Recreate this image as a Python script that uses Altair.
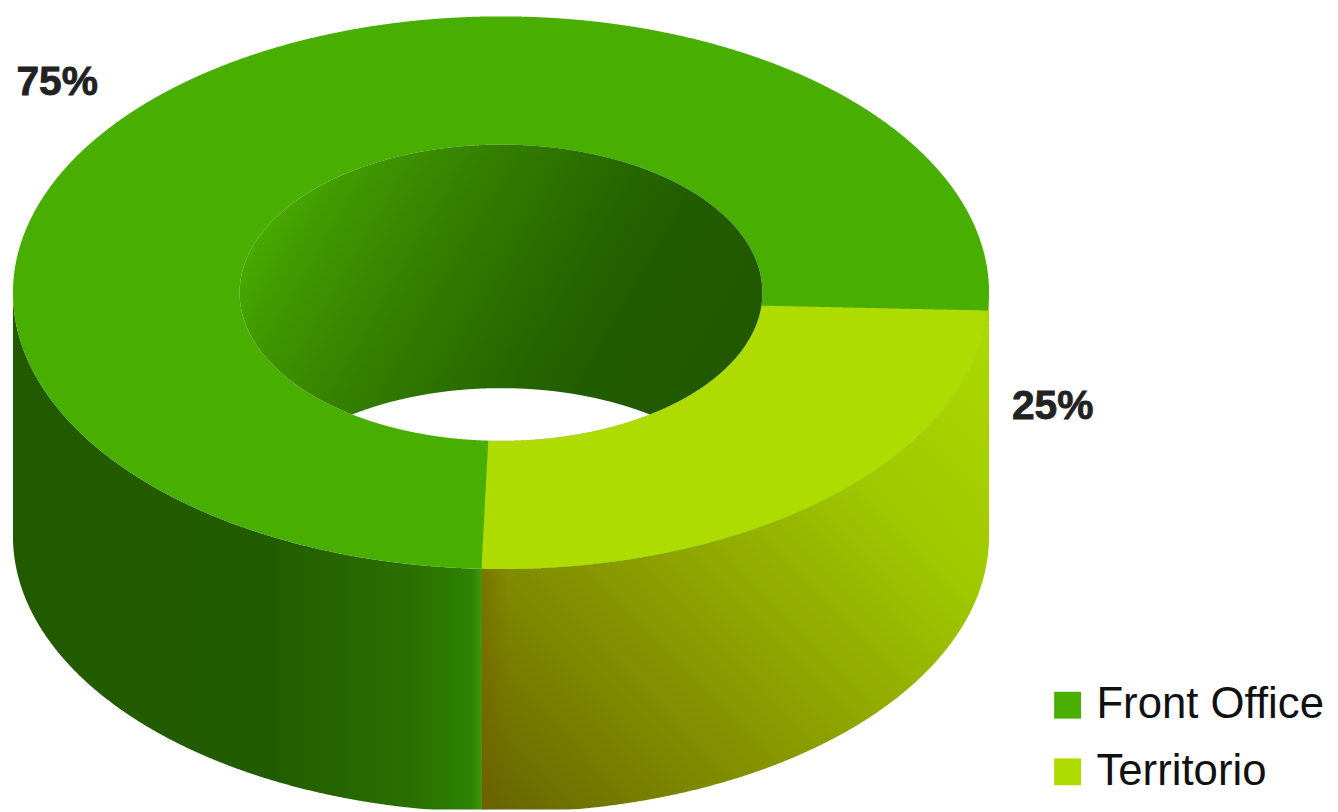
import numpy as np
import pandas as pd
import altair as alt

# --- chart values ---
series = ["Front Office", "Territorio"]
shares = [75, 25]
series_colors = ["#48AE00", "#AEDB00"]

# --- ring geometry, in picture pixels ---
CX, CY = 504.0, 292.0
RX_OUT, RY_OUT = 491.0, 278.0
RX_IN, RY_IN = 263.0, 149.0
DEPTH = 245.0
START_OUT, START_IN = 3.7, 5.0
SWEEP_OUT, SWEEP_IN = 88.6, 87.8

X_DOMAIN = [8, 1338]
Y_DOMAIN = [812, 8]
W, H = 1330, 804

theta = np.radians(np.linspace(0, 180, 1441))


def lower(x, rx, ry):
    u = np.clip((x - CX) / rx, -1, 1)
    return CY + ry * np.sqrt(1 - u * u)


def upper(x, rx, ry):
    u = np.clip((x - CX) / rx, -1, 1)
    return CY - ry * np.sqrt(1 - u * u)


xs_out = np.sort(CX + RX_OUT * np.cos(theta))
xs_in = np.sort(CX + RX_IN * np.cos(theta))

a0o, a1o = np.radians(START_OUT), np.radians(START_OUT + SWEEP_OUT)
a0i, a1i = np.radians(START_IN), np.radians(START_IN + SWEEP_IN)
p_out_start = (CX + RX_OUT * np.cos(a0o), CY + RY_OUT * np.sin(a0o))
p_out_end = (CX + RX_OUT * np.cos(a1o), CY + RY_OUT * np.sin(a1o))
p_in_start = (CX + RX_IN * np.cos(a0i), CY + RY_IN * np.sin(a0i))
p_in_end = (CX + RX_IN * np.cos(a1i), CY + RY_IN * np.sin(a1i))

top_front = pd.DataFrame({"x": xs_out, "y": upper(xs_out, RX_OUT, RY_OUT),
                          "y2": lower(xs_out, RX_OUT, RY_OUT), "series": series[0]})

xs_t = xs_out[(xs_out >= p_out_end[0]) & (xs_out <= p_out_start[0])]
top_edge = np.where(
    xs_t < p_in_end[0],
    np.interp(xs_t, [p_out_end[0], p_in_end[0]], [p_out_end[1], p_in_end[1]]),
    np.where(
        xs_t < p_in_start[0],
        lower(xs_t, RX_IN, RY_IN),
        np.interp(xs_t, [p_in_start[0], p_out_start[0]], [p_in_start[1], p_out_start[1]]),
    ),
)
top_terr = pd.DataFrame({"x": xs_t, "y": top_edge, "y2": lower(xs_t, RX_OUT, RY_OUT), "series": series[1]})

xs_wf = xs_out[xs_out <= p_out_end[0] + 1.5]
wall_front = pd.DataFrame({"x": xs_wf, "y": lower(xs_wf, RX_OUT, RY_OUT),
                           "y2": lower(xs_wf, RX_OUT, RY_OUT) + DEPTH})
xs_wt = xs_out[xs_out >= p_out_end[0]]
wall_terr = pd.DataFrame({"x": xs_wt, "y": lower(xs_wt, RX_OUT, RY_OUT),
                          "y2": lower(xs_wt, RX_OUT, RY_OUT) + DEPTH})
xs_seam = xs_wt[xs_wt <= p_out_end[0] + 28]
wall_seam = pd.DataFrame({"x": xs_seam, "y": lower(xs_seam, RX_OUT, RY_OUT),
                          "y2": lower(xs_seam, RX_OUT, RY_OUT) + DEPTH})

inner_low = lower(xs_in, RX_IN, RY_IN)
shift_up = upper(xs_in, RX_IN, RY_IN) + DEPTH
hole_wall = pd.DataFrame({"x": xs_in, "y": upper(xs_in, RX_IN, RY_IN),
                          "y2": np.minimum(inner_low, shift_up)})

labels = pd.DataFrame({"text": [f"{shares[0]}%", f"{shares[1]}%"],
                       "x": [57.5, 1059], "y": [81.5, 407]})

x_enc = alt.X("x:Q", scale=alt.Scale(domain=X_DOMAIN, nice=False, zero=False), axis=None)
y_enc = alt.Y("y:Q", scale=alt.Scale(domain=Y_DOMAIN, nice=False, zero=False), axis=None)
y2_enc = alt.Y2("y2:Q")


def grad(stops, x1=0, y1=0, x2=1, y2=0):
    return alt.Gradient(
        gradient="linear", x1=x1, y1=y1, x2=x2, y2=y2,
        stops=[alt.GradientStop(offset=o, color=c) for o, c in stops],
    )


front_wall = alt.Chart(wall_front).mark_area(
    clip=True,
    fill=grad([(0, "#225A00"), (0.55, "#225C00"), (0.85, "#2A7000"), (0.975, "#2E8204"), (1, "#3F9A10")]),
).encode(x=x_enc, y=y_enc, y2=y2_enc)

terr_wall = alt.Chart(wall_terr).mark_area(
    clip=True,
    fill=grad([(0, "#666400"), (0.25, "#7F8A00"), (0.5, "#92AC00"), (0.7, "#A0C800"), (1, "#AEDB00")],
              x1=0, y1=1, x2=1, y2=0),
).encode(x=x_enc, y=y_enc, y2=y2_enc)

seam_shade = alt.Chart(wall_seam).mark_area(
    clip=True,
    fill=grad([(0, "rgba(122,90,0,0.4)"), (1, "rgba(122,90,0,0)")]),
).encode(x=x_enc, y=y_enc, y2=y2_enc)

fill_enc = alt.Fill(
    "series:N",
    scale=alt.Scale(domain=series, range=series_colors),
    legend=alt.Legend(
        title=None, orient="none", legendX=1044, legendY=677,
        symbolType="square", symbolSize=729, symbolStrokeWidth=0, symbolOpacity=1,
        labelFont="Liberation Sans", labelFontSize=44, labelColor="#111111", labelOffset=7,
        rowPadding=23, labelLimit=400,
    ),
)

top1 = alt.Chart(top_front).mark_area(clip=True, opacity=1).encode(x=x_enc, y=y_enc, y2=y2_enc, fill=fill_enc)
top2 = alt.Chart(top_terr).mark_area(clip=True, opacity=1).encode(x=x_enc, y=y_enc, y2=y2_enc, fill=fill_enc)

hole_white = alt.Chart(pd.DataFrame({"x": xs_in, "y": upper(xs_in, RX_IN, RY_IN), "y2": inner_low})).mark_area(
    clip=True, fill="#FFFFFF"
).encode(x=x_enc, y=y_enc, y2=y2_enc)

hole = alt.Chart(hole_wall).mark_area(
    clip=True,
    fill=grad([(0, "#4AAE00"), (0.12, "#429A00"), (0.35, "#347F00"), (0.6, "#266800"), (0.75, "#225C00"), (1, "#215800")],
              x1=0, y1=0.35, x2=1, y2=0.65),
).encode(x=x_enc, y=y_enc, y2=y2_enc)

text = alt.Chart(labels).mark_text(
    font="Liberation Sans", fontWeight="bold", fontSize=41, color="#222222",
    stroke="#222222", strokeWidth=0.8, align="center", baseline="middle",
).encode(x=x_enc, y=y_enc, text="text:N")

chart = alt.layer(front_wall, terr_wall, seam_shade, top1, top2, hole_white, hole, text).properties(
    width=W, height=H, padding=0, autosize=alt.AutoSizeParams(type="none"), background="#FFFFFF",
).configure_view(stroke=None)

chart.save("out.html", embed_options={"renderer": "svg", "actions": False})
